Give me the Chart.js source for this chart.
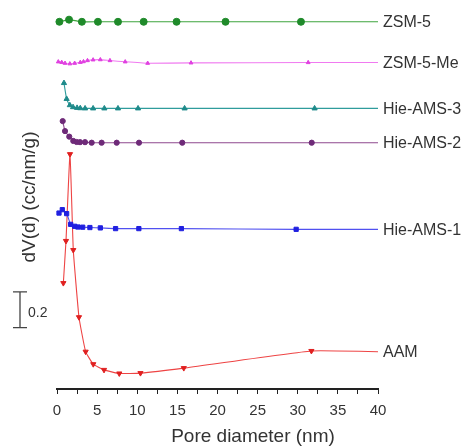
<!DOCTYPE html>
<html>
<head>
<meta charset="utf-8">
<script src="https://cdn.jsdelivr.net/npm/chart.js@4.4.1/dist/chart.umd.min.js"></script>
<style>
  html, body { margin: 0; padding: 0; background: #fff; }
  #wrap { width: 462px; height: 446px; position: relative; }
</style>
</head>
<body>
<div id="wrap"><canvas id="psd"></canvas></div>
<script>
// Pore size distributions, curves stacked with offsets (values as plotted).
// The last point of each series sits past 40 nm so the line runs to the edge.
const SERIES_NAMES = ["ZSM-5", "ZSM-5-Me", "Hie-AMS-3", "Hie-AMS-2", "Hie-AMS-1", "AAM"];

const zsm5X = [0.3, 1.5, 3.1, 5.1, 7.6, 10.8, 14.9, 21.0, 30.4, 42];
const zsm5Y = [2.056, 2.068, 2.056, 2.056, 2.056, 2.056, 2.056, 2.056, 2.056, 2.056];

const zsm5meX = [0.16, 0.59, 1.0, 1.6, 2.2, 2.9, 3.3, 3.8, 4.5, 5.4, 6.6, 8.5, 11.3, 16.7, 31.3, 42];
const zsm5meY = [1.832, 1.829, 1.824, 1.821, 1.824, 1.829, 1.833, 1.839, 1.843, 1.844, 1.839, 1.832, 1.824, 1.826, 1.828, 1.828];

const ams3X = [0.87, 1.2, 1.6, 2.0, 2.5, 2.9, 3.5, 4.5, 5.9, 7.6, 10.1, 15.9, 32.1, 42];
const ams3Y = [1.713, 1.624, 1.589, 1.578, 1.574, 1.572, 1.571, 1.571, 1.571, 1.571, 1.571, 1.571, 1.571, 1.571];

const ams2X = [0.71, 1.0, 1.53, 2.03, 2.45, 2.87, 3.49, 4.32, 5.56, 7.44, 10.22, 15.61, 31.74, 42];
const ams2Y = [1.5, 1.444, 1.413, 1.389, 1.383, 1.382, 1.382, 1.379, 1.379, 1.379, 1.379, 1.379, 1.379, 1.379];

const ams1X = [0.25, 0.66, 1.2, 1.7, 2.2, 2.6, 3.2, 4.1, 5.4, 7.3, 10.2, 15.5, 29.8, 42];
const ams1Y = [0.985, 1.004, 0.982, 0.922, 0.911, 0.907, 0.906, 0.904, 0.902, 0.898, 0.898, 0.898, 0.894, 0.894];

const aamX = [0.79, 1.12, 1.62, 2.03, 2.74, 3.57, 4.52, 5.86, 7.76, 10.4, 15.8, 31.7, 42];
const aamY = [0.593, 0.829, 1.315, 0.778, 0.402, 0.209, 0.139, 0.107, 0.087, 0.089, 0.117, 0.213, 0.207];

const X_TICK_LABELS = ["0", "5", "10", "15", "20", "25", "30", "35", "40"];
const SCALE_BAR_FROM = 0.344;
const SCALE_BAR_SIZE = 0.2;

const FONT = "'Liberation Sans', Arial, sans-serif";
const TEXT = "#333";

function pts(xs, ys) {
  return xs.map((x, i) => ({ x, y: ys[i] }));
}

function series(label, xs, ys, line, fill, style, radius, rotation = 0) {
  return {
    label,
    data: pts(xs, ys),
    borderColor: line,
    borderWidth: 1.1,
    backgroundColor: fill,
    pointBackgroundColor: fill,
    pointBorderColor: fill,
    pointBorderWidth: 1,
    pointStyle: style,
    pointRadius: radius,
    pointRotation: rotation,
    tension: 0.12,
    // let markers near 0 show whole, but cut the run-off point past 40 nm
    clip: { left: 6, top: 6, right: 0, bottom: 6 },
    fill: false,
  };
}

// End labels, scale bar and x title drawn from the scales
const annotate = {
  id: "annotate",
  afterDatasetsDraw(chart) {
    const { ctx, chartArea, scales } = chart;
    const y = scales.y;
    ctx.save();
    ctx.fillStyle = TEXT;
    ctx.textBaseline = "middle";
    ctx.textAlign = "left";
    ctx.font = "16px " + FONT;
    chart.data.datasets.forEach((ds) => {
      const last = ds.data[ds.data.length - 1];
      ctx.fillText(ds.label, chartArea.right + 5, y.getPixelForValue(last.y) + 1);
    });

    // 0.2 scale bar
    const y0 = y.getPixelForValue(SCALE_BAR_FROM);
    const y1 = y.getPixelForValue(SCALE_BAR_FROM + SCALE_BAR_SIZE);
    const bx = 20;
    ctx.strokeStyle = "#444";
    ctx.lineWidth = 1.3;
    ctx.beginPath();
    ctx.moveTo(bx, y0); ctx.lineTo(bx, y1);
    ctx.moveTo(bx - 7, y0); ctx.lineTo(bx + 7, y0);
    ctx.moveTo(bx - 7, y1); ctx.lineTo(bx + 7, y1);
    ctx.stroke();
    ctx.font = "14px " + FONT;
    ctx.fillText(String(SCALE_BAR_SIZE), 28, (y0 + y1) / 2 + 3);

    // x title
    ctx.textAlign = "center";
    ctx.font = "19px " + FONT;
    ctx.fillText("Pore diameter (nm)", 253, 437);
    ctx.restore();
  },
};

new Chart(document.getElementById("psd"), {
  type: "line",
  data: {
    datasets: [
      series(SERIES_NAMES[0], zsm5X, zsm5Y, "#3fa53f", "#1f8a2a", "circle", 3.5),
      series(SERIES_NAMES[1], zsm5meX, zsm5meY, "#f07af0", "#e040e0", "triangle", 2.2),
      series(SERIES_NAMES[2], ams3X, ams3Y, "#2f9c9c", "#1e8a8a", "triangle", 3),
      series(SERIES_NAMES[3], ams2X, ams2Y, "#8e4a8e", "#6e2a78", "circle", 2.6),
      series(SERIES_NAMES[4], ams1X, ams1Y, "#5050f0", "#2020e0", "rect", 3),
      series(SERIES_NAMES[5], aamX, aamY, "#ee4444", "#e02020", "triangle", 3, 180),
    ],
  },
  options: {
    responsive: true,
    maintainAspectRatio: false,
    animation: false,
    layout: { padding: { left: 18.6, right: 84, top: 3, bottom: 18 } },
    plugins: { legend: { display: false }, tooltip: { enabled: false } },
    scales: {
      x: {
        type: "linear",
        min: 0,
        max: 40,
        grid: { display: true, drawOnChartArea: false, tickLength: 5, color: "#222", lineWidth: 1 },
        border: { display: true, color: "#222", width: 2 },
        ticks: {
          stepSize: 2.5,
          padding: 8,
          color: TEXT,
          maxRotation: 0,
          autoSkip: false,
          font: { family: FONT, size: 15 },
          callback: (v) => (v % 5 === 0 ? X_TICK_LABELS[v / 5] : ""),
        },
      },
      y: {
        min: 0,
        max: 2.15,
        grid: { display: false },
        border: { display: false },
        ticks: { display: false },
        title: {
          display: true,
          text: "dV(d) (cc/nm/g)",
          color: TEXT,
          font: { family: FONT, size: 19 },
          padding: { top: 0, bottom: 7.6 },
        },
      },
    },
  },
  plugins: [annotate],
});
</script>
</body>
</html>
